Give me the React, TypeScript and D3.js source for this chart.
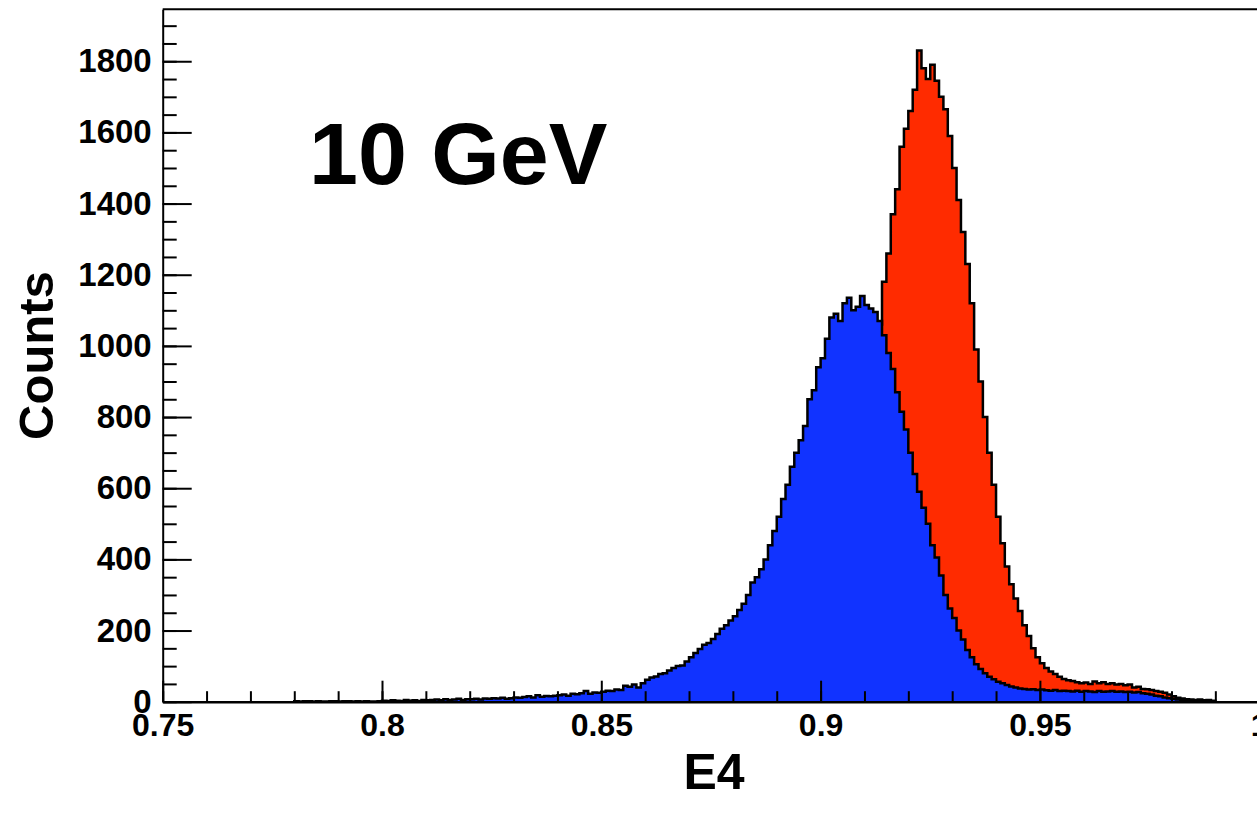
import React, { useEffect, useRef } from "react";
import * as d3 from "d3";

const W = 1257;
const H = 817;

// Histogram binning: bins of width 0.001 starting at 0.780
const BIN_START = 0.78;
const BIN_WIDTH = 0.001;

// Blue histogram counts (0.780 ... 0.989)
const blueCounts = [
  1, 0, 1, 0, 0, 1, 0, 0, 1, 0,
  0, 1, 0, 0, 1, 0, 1, 0, 0, 1,
  3, 2, 4, 3, 2, 5, 3, 4, 2, 5,
  4, 5, 6, 4, 7, 5, 6, 8, 5, 7,
  7, 8, 6, 9, 8, 10, 9, 11, 8, 10,
  12, 11, 13, 15, 12, 18, 14, 16, 15, 17,
  18, 20, 17, 22, 21, 24, 30, 22, 26, 25,
  28, 31, 30, 34, 33, 45, 42, 48, 40, 52,
  62, 68, 71, 78, 80, 88, 95, 100, 102, 113,
  125, 137, 148, 160, 165, 176, 190, 205, 215, 228,
  240, 258, 275, 300, 335, 350, 372, 400, 440, 480,
  520, 570, 610, 660, 700, 735, 775, 850, 875, 940,
  965, 1020, 1080, 1090, 1070, 1120, 1135, 1100, 1110, 1140,
  1115, 1105, 1095, 1070, 1030, 980, 935, 870, 815, 765,
  700, 640, 590, 545, 500, 440, 405, 355, 300, 262,
  235, 200, 175, 145, 125, 105, 92, 80, 70, 63,
  56, 52, 47, 43, 40, 37, 36, 34, 35, 33,
  34, 32, 31, 33, 30, 31, 30, 29, 31, 28,
  30, 29, 27, 30, 28, 29, 30, 28, 29, 27,
  28, 26, 27, 24, 22, 20, 17, 15, 12, 10,
  8, 6, 4, 3, 2, 1, 1, 0, 1, 0,
];

// Red histogram counts (0.780 ... 0.989)
const redCounts = [
  0, 0, 0, 1, 0, 0, 0, 0, 0, 1,
  0, 0, 1, 0, 0, 0, 1, 0, 0, 0,
  1, 0, 2, 1, 1, 0, 2, 1, 1, 2,
  1, 2, 2, 1, 3, 2, 2, 3, 2, 3,
  3, 2, 4, 3, 3, 4, 5, 4, 4, 5,
  5, 6, 5, 6, 7, 6, 7, 8, 7, 8,
  8, 9, 9, 10, 10, 11, 12, 12, 13, 14,
  14, 15, 16, 17, 18, 19, 20, 22, 23, 24,
  26, 28, 29, 31, 33, 35, 37, 40, 42, 45,
  48, 51, 54, 58, 62, 66, 70, 75, 80, 86,
  92, 98, 105, 112, 120, 130, 140, 150, 162, 175,
  190, 205, 222, 240, 262, 285, 310, 340, 372, 405,
  440, 480, 520, 565, 612, 660, 712, 765, 820, 880,
  940, 990, 1030, 1060, 1180, 1260, 1370, 1440, 1560, 1610,
  1660, 1720, 1830, 1780, 1750, 1790, 1745, 1700, 1665, 1590,
  1500, 1410, 1320, 1230, 1120, 990, 900, 800, 700, 610,
  520, 445, 380, 330, 290, 255, 215, 185, 150, 125,
  108, 95, 85, 78, 70, 64, 60, 58, 55, 52,
  54, 50, 57, 52, 55, 50, 52, 48, 50, 46,
  48, 40, 42, 36, 35, 33, 30, 28, 25, 20,
  15, 11, 9, 7, 6, 5, 6, 4, 5, 3,
];

const xMajorTicks = [0.75, 0.8, 0.85, 0.9, 0.95, 1.0];
const xTickLabels = ["0.75", "0.8", "0.85", "0.9", "0.95", "1"];
const xMinorTicks = d3.range(0, 26).map((i) => 0.75 + i * 0.01);
const yMajorTicks = [0, 200, 400, 600, 800, 1000, 1200, 1400, 1600, 1800];
const yMinorTicks = d3.range(0, 39).map((i) => i * 50);

const X_DOMAIN = [0.75, 1.0];
const Y_DOMAIN = [0, 1946];

const BLUE = "#1133ff";
const RED = "#ff2b00";
const FONT = "'Liberation Sans', Arial, Helvetica, sans-serif";

export default function App() {
  const ref = useRef<SVGSVGElement>(null);

  useEffect(() => {
    const svg = d3.select(ref.current);
    svg.selectAll("*").remove();

    const left = 162.7;
    const right = 1259.2;
    const bottom = 701.7;
    const top = 9.3;

    const x = d3.scaleLinear().domain(X_DOMAIN).range([left, right]);
    const y = d3.scaleLinear().domain(Y_DOMAIN).range([bottom, top]);

    const g = svg.append("g");

    const drawHist = (counts: number[], fill: string) => {
      const pts: [number, number][] = counts.map((c, i) => [
        BIN_START + i * BIN_WIDTH,
        c,
      ]);
      const end = BIN_START + counts.length * BIN_WIDTH;
      pts.push([end, counts[counts.length - 1]]);

      const area = d3
        .area<[number, number]>()
        .x((d) => x(d[0]))
        .y0(y(0))
        .y1((d) => y(d[1]))
        .curve(d3.curveStepAfter);

      g.append("path")
        .attr("d", area(pts) as string)
        .attr("fill", fill)
        .attr("stroke", "none");

      const outline: [number, number][] = [[BIN_START, 0], ...pts, [end, 0]];
      const line = d3
        .line<[number, number]>()
        .x((d) => x(d[0]))
        .y((d) => y(d[1]))
        .curve(d3.curveStepAfter);

      g.append("path")
        .attr("d", line(outline) as string)
        .attr("fill", "none")
        .attr("stroke", "#000")
        .attr("stroke-width", 2.5)
        .attr("stroke-linejoin", "miter");
    };

    drawHist(redCounts, RED);
    drawHist(blueCounts, BLUE);

    // Frame
    g.append("line")
      .attr("x1", left)
      .attr("x2", right)
      .attr("y1", top)
      .attr("y2", top)
      .attr("stroke", "#000")
      .attr("stroke-width", 2);
    g.append("line")
      .attr("x1", right)
      .attr("x2", right)
      .attr("y1", top)
      .attr("y2", bottom)
      .attr("stroke", "#000")
      .attr("stroke-width", 2);

    // X axis
    const xMinor = d3
      .axisBottom(x)
      .tickValues(xMinorTicks)
      .tickSize(-10.5)
      .tickSizeOuter(0)
      .tickFormat(() => "");
    const gxm = g.append("g").attr("transform", `translate(0,${bottom})`).call(xMinor);
    gxm.select(".domain").remove();

    const xMajor = d3
      .axisBottom(x)
      .tickValues(xMajorTicks)
      .tickSize(-21)
      .tickSizeOuter(0)
      .tickFormat((_, i) => xTickLabels[i]);
    const gx = g.append("g").attr("transform", `translate(0,${bottom})`).call(xMajor);
    gx.select(".domain").attr("stroke-width", 2.5);
    gx.selectAll(".tick line").attr("stroke-width", 2);
    gxm.selectAll(".tick line").attr("stroke-width", 2);
    gx.selectAll(".tick text")
      .attr("y", 34)
      .attr("dy", null)
      .attr("font-family", FONT)
      .attr("font-weight", "bold")
      .attr("font-size", 32)
      .attr("fill", "#000");

    // Y axis
    const yMinor = d3
      .axisLeft(y)
      .tickValues(yMinorTicks)
      .tickSize(-14)
      .tickSizeOuter(0)
      .tickFormat(() => "");
    const gym = g.append("g").attr("transform", `translate(${left},0)`).call(yMinor);
    gym.select(".domain").remove();
    gym.selectAll(".tick line").attr("stroke-width", 2);

    const yMajor = d3
      .axisLeft(y)
      .tickValues(yMajorTicks)
      .tickSize(-29)
      .tickSizeOuter(0)
      .tickPadding(11)
      .tickFormat((d) => String(d));
    const gy = g.append("g").attr("transform", `translate(${left},0)`).call(yMajor);
    gy.select(".domain").attr("stroke-width", 2);
    gy.selectAll(".tick line").attr("stroke-width", 2);
    gy.selectAll(".tick text")
      .attr("font-family", FONT)
      .attr("font-weight", "bold")
      .attr("font-size", 33)
      .attr("fill", "#000");

    // Axis titles
    svg
      .append("text")
      .attr("x", 714)
      .attr("y", 789)
      .attr("text-anchor", "middle")
      .attr("font-family", FONT)
      .attr("font-weight", "bold")
      .attr("font-size", 50)
      .text("E4");

    svg
      .append("text")
      .attr("transform", `translate(53,${(top + bottom) / 2}) rotate(-90)`)
      .attr("text-anchor", "middle")
      .attr("font-family", FONT)
      .attr("font-weight", "bold")
      .attr("font-size", 49)
      .text("Counts");

    // Energy label
    svg
      .append("text")
      .attr("x", 309)
      .attr("y", 184)
      .attr("font-family", FONT)
      .attr("font-weight", "bold")
      .attr("font-size", 88)
      .text("10 GeV");
  }, []);

  return (
    <svg
      ref={ref}
      width={W}
      height={H}
      style={{ position: "absolute", left: 0, top: 0, background: "#fff" }}
    />
  );
}
